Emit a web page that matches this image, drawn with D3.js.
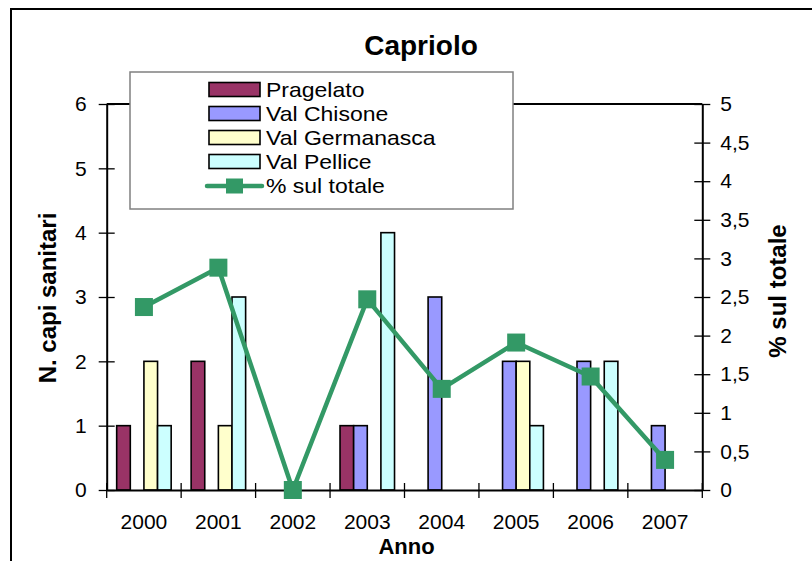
<!DOCTYPE html>
<html>
<head>
<meta charset="utf-8">
<script src="https://cdn.jsdelivr.net/npm/d3@7/dist/d3.min.js"></script>
<style>
  html, body { margin: 0; padding: 0; background: #fff; }
  svg { display: block; }
  text { font-family: "Liberation Sans", Arial, sans-serif; fill: #000; }
</style>
</head>
<body>
<svg id="chart" width="812" height="561"></svg>
<script>
// ---- data ----
const years = ["2000", "2001", "2002", "2003", "2004", "2005", "2006", "2007"];
const seriesNames = ["Pragelato", "Val Chisone", "Val Germanasca", "Val Pellice"];
const pragelato     = [1, 2, 0, 1, 0, 0, 0, 0];
const valChisone    = [0, 0, 0, 1, 3, 2, 2, 1];
const valGermanasca = [2, 1, 0, 0, 0, 2, 0, 0];
const valPellice    = [1, 3, 0, 4, 0, 1, 2, 0];
const percentTotale = [2.37, 2.88, 0, 2.47, 1.31, 1.91, 1.47, 0.39];
const leftTicks  = [0, 1, 2, 3, 4, 5, 6];
const rightTicks = [0, 0.5, 1, 1.5, 2, 2.5, 3, 3.5, 4, 4.5, 5];
const lineName = "% sul totale";

const seriesValues = [pragelato, valChisone, valGermanasca, valPellice];
const colors = ["#993366", "#9999FF", "#FFFFCC", "#CCFFFF"];
const lineColor = "#339966";

const svg = d3.select("#chart");
const plot = { left: 106.7, right: 702.3, top: 104, bottom: 490 };

// outer frame
svg.append("rect").attr("x", 11).attr("y", 9).attr("width", 900).attr("height", 700)
  .attr("fill", "#fff").attr("stroke", "#000").attr("stroke-width", 2);

const x0 = d3.scaleBand().domain(years).range([plot.left, plot.right]).padding(0);
const x1 = d3.scaleBand().domain(seriesNames)
  .range([x0.bandwidth() * 0.134, x0.bandwidth() * 0.866]).padding(0);
const yL = d3.scaleLinear().domain([0, 6]).range([plot.bottom, plot.top]);
const yR = d3.scaleLinear().domain([0, 5]).range([plot.bottom, plot.top]);

// plot top border
svg.append("line").attr("x1", plot.left).attr("x2", plot.right)
  .attr("y1", plot.top).attr("y2", plot.top).attr("stroke", "#000").attr("stroke-width", 2);

// bars
const groups = svg.append("g").selectAll("g").data(years).join("g")
  .attr("transform", d => `translate(${x0(d)},0)`);
groups.selectAll("rect")
  .data((d, i) => seriesNames.map((s, k) => ({ s, k, v: seriesValues[k][i] })).filter(o => o.v > 0))
  .join("rect")
  .attr("x", o => x1(o.s))
  .attr("width", x1.bandwidth())
  .attr("y", o => yL(o.v))
  .attr("height", o => yL(0) - yL(o.v))
  .attr("fill", o => colors[o.k])
  .attr("stroke", "#000").attr("stroke-width", 1.6);

// axes
const tickStyle = g => {
  g.select(".domain").attr("stroke", "#000").attr("stroke-width", 2);
  g.selectAll(".tick line").attr("stroke", "#000").attr("stroke-width", 1.3);
  g.selectAll(".tick text").style("font-size", "20px").attr("fill", "#000");
};

const axL = d3.axisLeft(yL).tickValues(leftTicks).tickSize(8).tickSizeOuter(0).tickPadding(12)
  .tickFormat(d3.format("d"));
const gL = svg.append("g").attr("transform", `translate(${plot.left},0)`).call(axL).call(tickStyle);
gL.selectAll(".tick line").attr("x1", 8).attr("x2", -8);
gL.selectAll(".tick text").style("font-size", "21px");

const fmtR = d => String(d).replace(".", ",");
const axR = d3.axisRight(yR).tickValues(rightTicks).tickSize(8).tickSizeOuter(0).tickPadding(10)
  .tickFormat(fmtR);
const gR = svg.append("g").attr("transform", `translate(${plot.right},0)`).call(axR).call(tickStyle);
gR.selectAll(".tick line").attr("x1", -8).attr("x2", 8);
gR.selectAll(".tick text").style("font-size", "21px");

const axB = d3.axisBottom(x0).tickSize(0).tickSizeOuter(0).tickPadding(24);
const gB = svg.append("g").attr("transform", `translate(0,${plot.bottom})`).call(axB).call(tickStyle);
gB.selectAll(".tick text").style("font-size", "21px");
// boundary ticks (crossing) between categories
const boundaries = years.map(d => x0(d)).concat([plot.right]);
svg.append("g").selectAll("line").data(boundaries).join("line")
  .attr("x1", d => d).attr("x2", d => d)
  .attr("y1", plot.bottom - 7).attr("y2", plot.bottom + 8)
  .attr("stroke", "#000").attr("stroke-width", 1.3);

// line series
const pts = years.map((y, i) => [x0(y) + x0.bandwidth() / 2, yR(percentTotale[i])]);
svg.append("path").datum(pts)
  .attr("d", d3.line())
  .attr("fill", "none").attr("stroke", lineColor).attr("stroke-width", 4.5)
  .attr("stroke-linejoin", "round");
svg.append("g").selectAll("rect").data(pts).join("rect")
  .attr("x", d => d[0] - 9).attr("y", d => d[1] - 9)
  .attr("width", 18).attr("height", 18).attr("fill", lineColor);

// title
svg.append("text").attr("x", 421).attr("y", 55).attr("text-anchor", "middle")
  .style("font-size", "28px").style("font-weight", "bold").text("Capriolo");

// axis titles
svg.append("text").attr("transform", `translate(${(plot.left + plot.right) / 2 + 2},554)`)
  .attr("text-anchor", "middle").style("font-size", "22px").style("font-weight", "bold").text("Anno");
svg.append("text").attr("transform", `translate(56,298) rotate(-90)`)
  .attr("text-anchor", "middle").style("font-size", "24px").style("font-weight", "bold").text("N. capi sanitari");
svg.append("text").attr("transform", `translate(786,291) rotate(-90)`)
  .attr("text-anchor", "middle").style("font-size", "24px").style("font-weight", "bold").text("% sul totale");

// legend
const lg = svg.append("g");
lg.append("rect").attr("x", 130).attr("y", 72).attr("width", 383).attr("height", 137)
  .attr("fill", "#fff").attr("stroke", "#808080").attr("stroke-width", 1.5);
const rowY = [89.5, 113.5, 137.5, 161.5, 186];
seriesNames.forEach((s, k) => {
  lg.append("rect").attr("x", 209).attr("y", rowY[k] - 7).attr("width", 51).attr("height", 14)
    .attr("fill", colors[k]).attr("stroke", "#000").attr("stroke-width", 1.6);
  lg.append("text").attr("transform", `translate(266,${rowY[k] + 7}) scale(1.15,1)`)
    .style("font-size", "20px").text(s);
});
lg.append("line").attr("x1", 207).attr("x2", 262).attr("y1", rowY[4]).attr("y2", rowY[4])
  .attr("stroke", lineColor).attr("stroke-width", 4.5).attr("stroke-linecap", "round");
lg.append("rect").attr("x", 226).attr("y", rowY[4] - 7.5).attr("width", 17).attr("height", 15).attr("fill", lineColor);
lg.append("text").attr("transform", `translate(266,${rowY[4] + 7}) scale(1.15,1)`)
  .style("font-size", "20px").text(lineName);
</script>
</body>
</html>
